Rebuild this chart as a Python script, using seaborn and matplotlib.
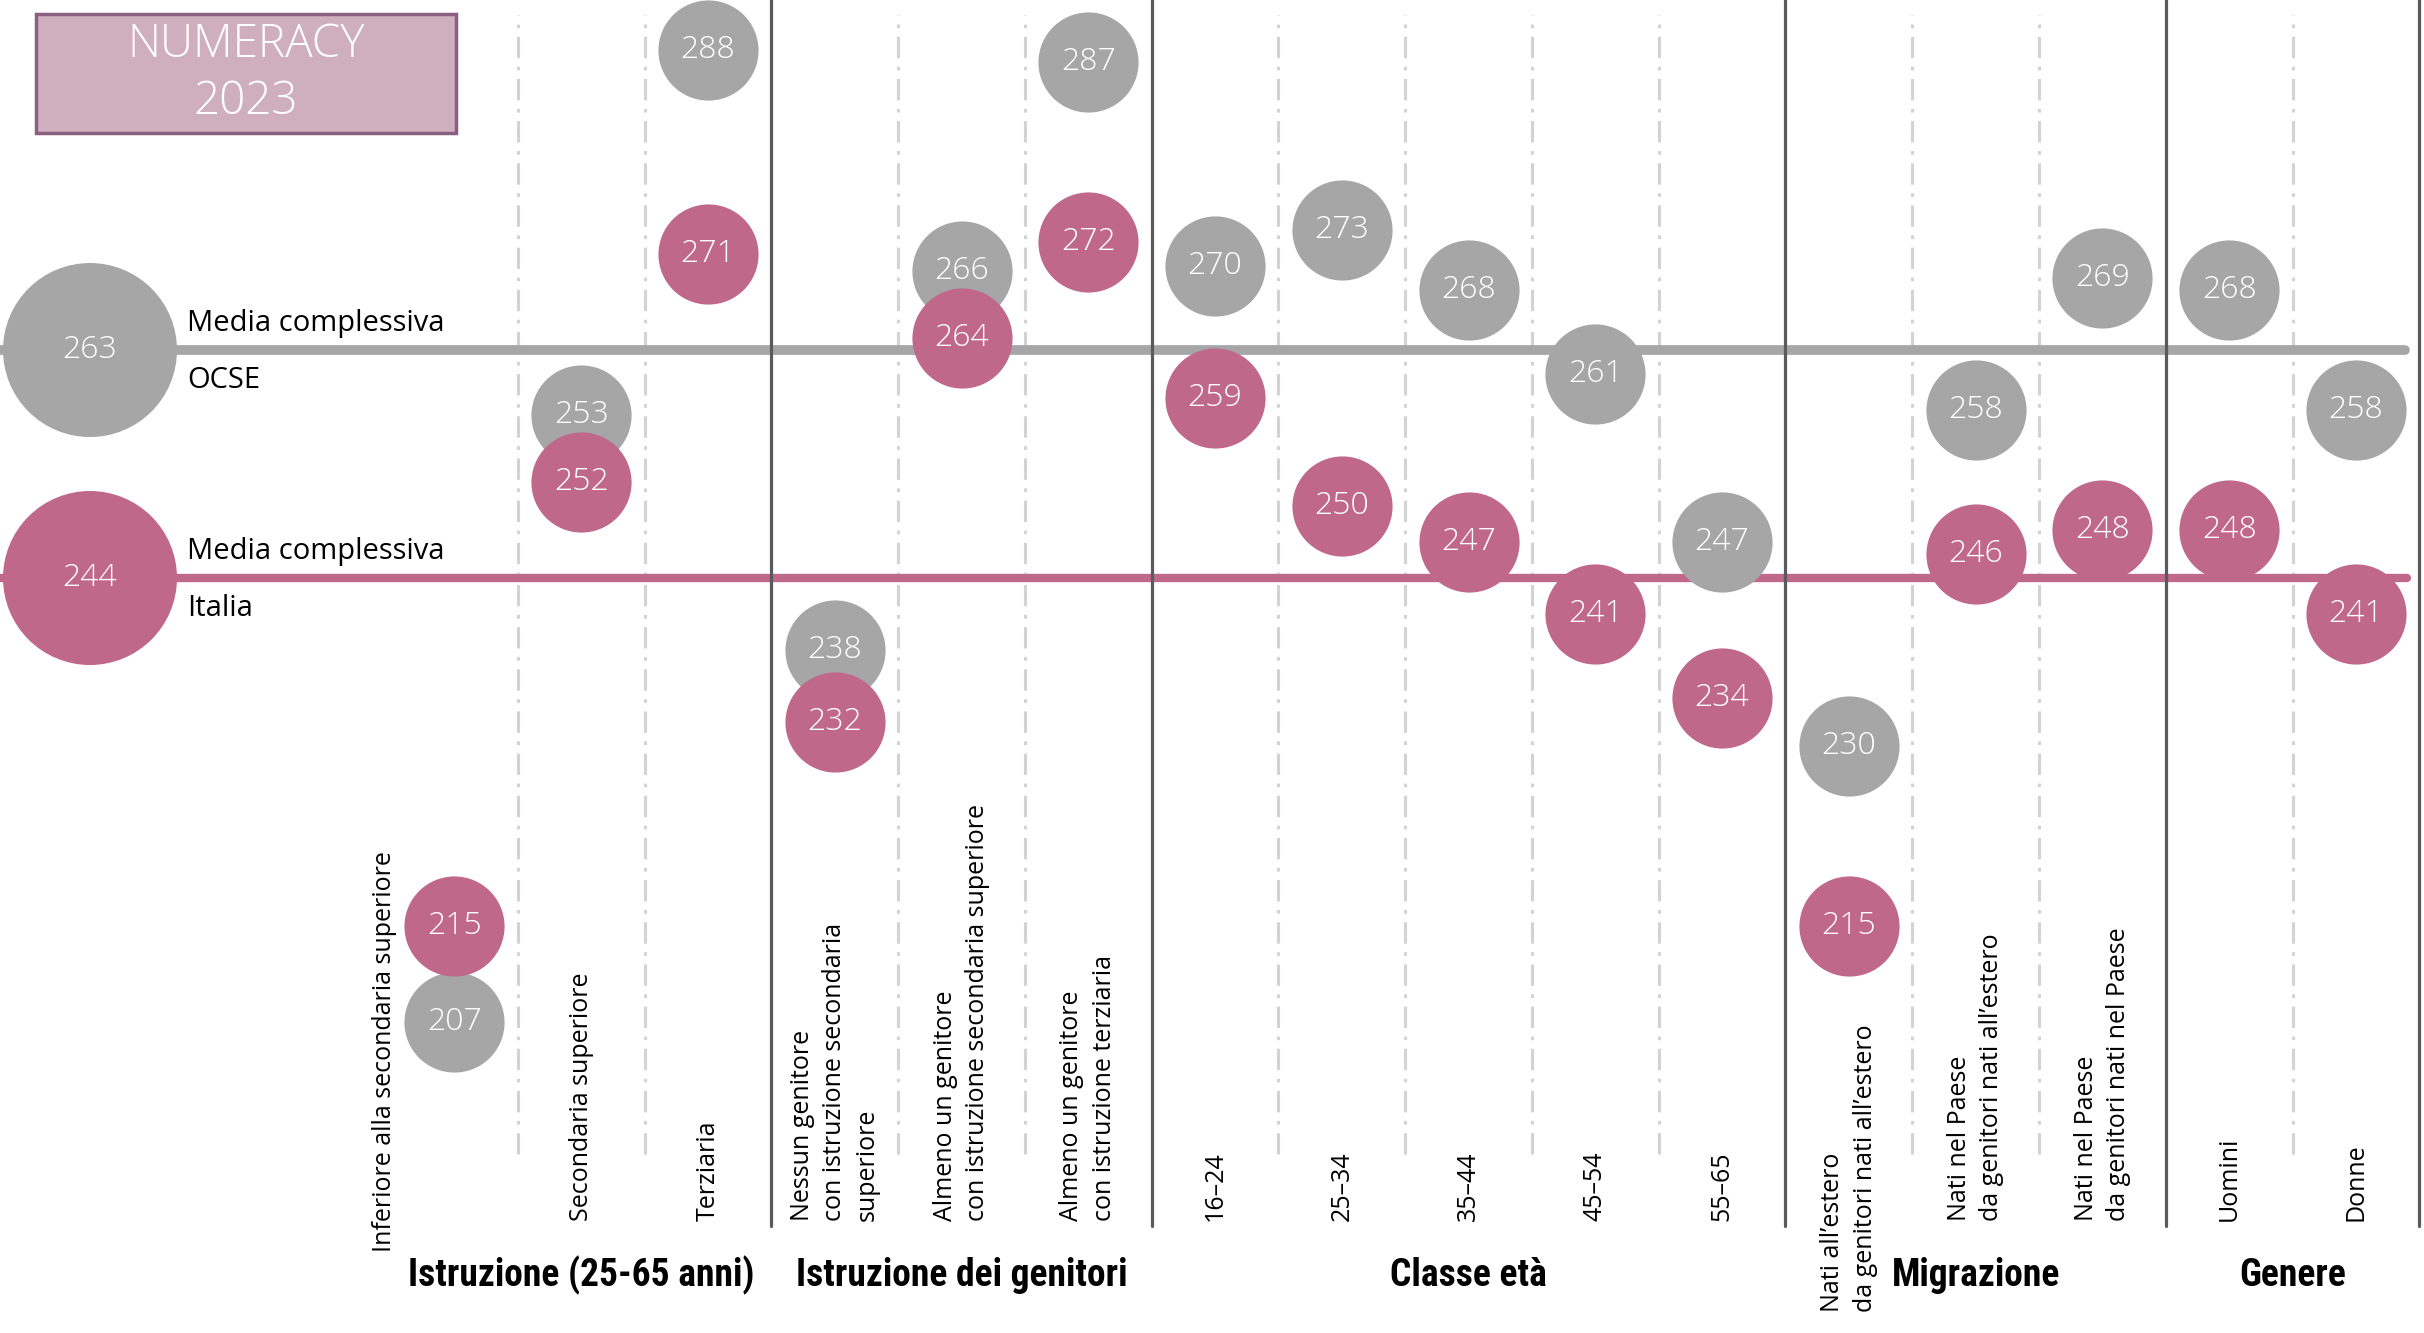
import numpy as np
import pandas as pd
import matplotlib
matplotlib.use("Agg")
import matplotlib.pyplot as plt
import matplotlib.patches as mpatches
from matplotlib.transforms import offset_copy
import seaborn as sns

# categorie (etichette in basso), gruppo di appartenenza e punteggi
categorie = ["Inferiore alla secondaria superiore", "Secondaria superiore", "Terziaria",
             "Nessun genitore\ncon istruzione secondaria\nsuperiore",
             "Almeno un genitore\ncon istruzione secondaria superiore",
             "Almeno un genitore\ncon istruzione terziaria",
             "16\u201324", "25\u201334", "35\u201344", "45\u201354", "55\u201365",
             "Nati all\u2019estero\nda genitori nati all\u2019estero",
             "Nati nel Paese\nda genitori nati all\u2019estero",
             "Nati nel Paese\nda genitori nati nel Paese",
             "Uomini", "Donne"]
gruppi = (["Istruzione (25-65 anni)"] * 3 + ["Istruzione dei genitori"] * 3 + ["Classe età"] * 5
          + ["Migrazione"] * 3 + ["Genere"] * 2)
ocse = [207, 253, 288, 238, 266, 287, 270, 273, 268, 261, 247, 230, 258, 269, 268, 258]
italia = [215, 252, 271, 232, 264, 272, 259, 250, 247, 241, 234, 215, 246, 248, 248, 241]
media_ocse = 263
media_italia = 244

GRIGIO = "#a6a6a6"
ROSA = "#c0688a"
SEP = 48  # distanza minima (pt) tra due cerchi della stessa colonna
CONDENSED = ['Liberation Sans Narrow', 'Roboto Condensed', 'Open Sans', 'DejaVu Sans']

sns.set_style("white")
plt.rcParams['font.family'] = ['Open Sans', 'DejaVu Sans']

pos = np.arange(len(categorie))
df = pd.DataFrame({'pos': np.tile(pos, 2),
                   'valore': ocse + italia,
                   'serie': ['OCSE'] * len(ocse) + ['Italia'] * len(italia)})

fig = plt.figure(figsize=(24.24, 13.33), dpi=100)
ax = fig.add_axes([0, 0, 1, 1])
ax.set_xlim(-3.585, 15.537)
ax.set_ylim(181.08, 292.17)
ax.axis('off')

# linee medie
ax.axhline(media_ocse, xmin=0, xmax=0.992, color=GRIGIO, lw=7, zorder=1)
ax.axhline(media_italia, xmin=0, xmax=0.993, color=ROSA, lw=6, zorder=1)

# separatori: pieni tra gruppi, tratteggiati dentro il gruppo
for i in range(len(categorie)):
    if i == len(categorie) - 1 or gruppi[i] != gruppi[i + 1]:
        ax.axvline(i + 0.5, ymin=0.08, ymax=1.0, color="#5a5a5a", lw=2.3, zorder=2)
    else:
        ax.axvline(i + 0.5, ymin=0.134, ymax=0.989, color="#d3d3d3", lw=2.2,
                   linestyle=(0, (7, 2.8, 1.2, 2.8)), zorder=0.5)

# spostamento verso l'alto dei cerchi OCSE troppo vicini a quelli Italia
df_o = df[df.serie == 'OCSE'].copy()
dist = (ax.transData.transform(np.c_[pos, ocse])[:, 1]
        - ax.transData.transform(np.c_[pos, italia])[:, 1]) * 72 / fig.dpi
df_o['dy'] = np.where((dist >= 0) & (dist < SEP), SEP - dist, 0)

# cerchi OCSE
sns.scatterplot(data=df_o[df_o.dy == 0], x='pos', y='valore', color=GRIGIO, s=5200,
                linewidth=0, legend=False, ax=ax, zorder=3)
for _, r in df_o[df_o.dy > 0].iterrows():
    tr = offset_copy(ax.transData, fig=fig, x=0, y=r.dy, units='points')
    sns.scatterplot(x=[r.pos], y=[r.valore], color=GRIGIO, s=5200, linewidth=0,
                    legend=False, ax=ax, zorder=3, transform=tr)
for _, r in df_o.iterrows():
    tr = offset_copy(ax.transData, fig=fig, x=0, y=r.dy, units='points')
    ax.text(r.pos, r.valore, str(int(r.valore)), color='white', fontsize=23, fontweight='light',
            ha='center', va='center', zorder=4, transform=tr)

# cerchi Italia
sns.scatterplot(data=df[df.serie == 'Italia'], x='pos', y='valore', color=ROSA, s=5200,
                linewidth=0, legend=False, ax=ax, zorder=5)
for p, v in zip(pos, italia):
    ax.text(p, v, str(v), color='white', fontsize=23, fontweight='light',
            ha='center', va='center', zorder=6)

# medie complessive a sinistra
x_media = ax.get_xlim()[0] + 0.71
sns.scatterplot(x=[x_media, x_media], y=[media_ocse, media_italia], hue=['OCSE', 'Italia'],
                palette={'OCSE': GRIGIO, 'Italia': ROSA}, s=15700, linewidth=0,
                legend=False, ax=ax, zorder=3)
for v, nome in [(media_ocse, "OCSE"), (media_italia, "Italia")]:
    ax.text(x_media, v, str(v), color='white', fontsize=23, fontweight='light',
            ha='center', va='center', zorder=6)
    ax.annotate("Media complessiva", xy=(x_media, v), xytext=(70, 19), textcoords='offset points',
                fontsize=21, ha='left', va='center', color='black', zorder=6)
    ax.annotate(nome, xy=(x_media, v), xytext=(70, -22), textcoords='offset points',
                fontsize=21, ha='left', va='center', color='black', zorder=6)

# etichette delle categorie
trans = ax.get_xaxis_transform()
base = {0: 0.061, 11: 0.016}
spost = {0: -0.55}
for i, lab in enumerate(categorie):
    ax.text(i + spost.get(i, 0), base.get(i, 0.084), lab, rotation=90, transform=trans,
            ha='center', va='bottom', multialignment='left', fontsize=18,
            linespacing=1.4, color='black')

# titoli dei gruppi
nomi = list(dict.fromkeys(gruppi))
for g in nomi:
    idx = [i for i, x in enumerate(gruppi) if x == g]
    ax.text(np.mean(idx), 0.043, g, transform=trans, ha='center', va='center',
            fontsize=27, fontweight='bold', color='black', family=CONDENSED)

# riquadro titolo
ax.add_patch(mpatches.Rectangle((0.0149, 0.9002), 0.1733, 0.0893, transform=ax.transAxes,
                                facecolor="#cfaebe", edgecolor="#8c5f80", lw=2.5, zorder=7))
ax.text(0.1015, 0.945, "NUMERACY\n2023", transform=ax.transAxes, ha='center', va='center',
        color='white', fontsize=33, fontweight='light', linespacing=1.3, zorder=8)

plt.savefig('out.png', dpi=100)
plt.close()
